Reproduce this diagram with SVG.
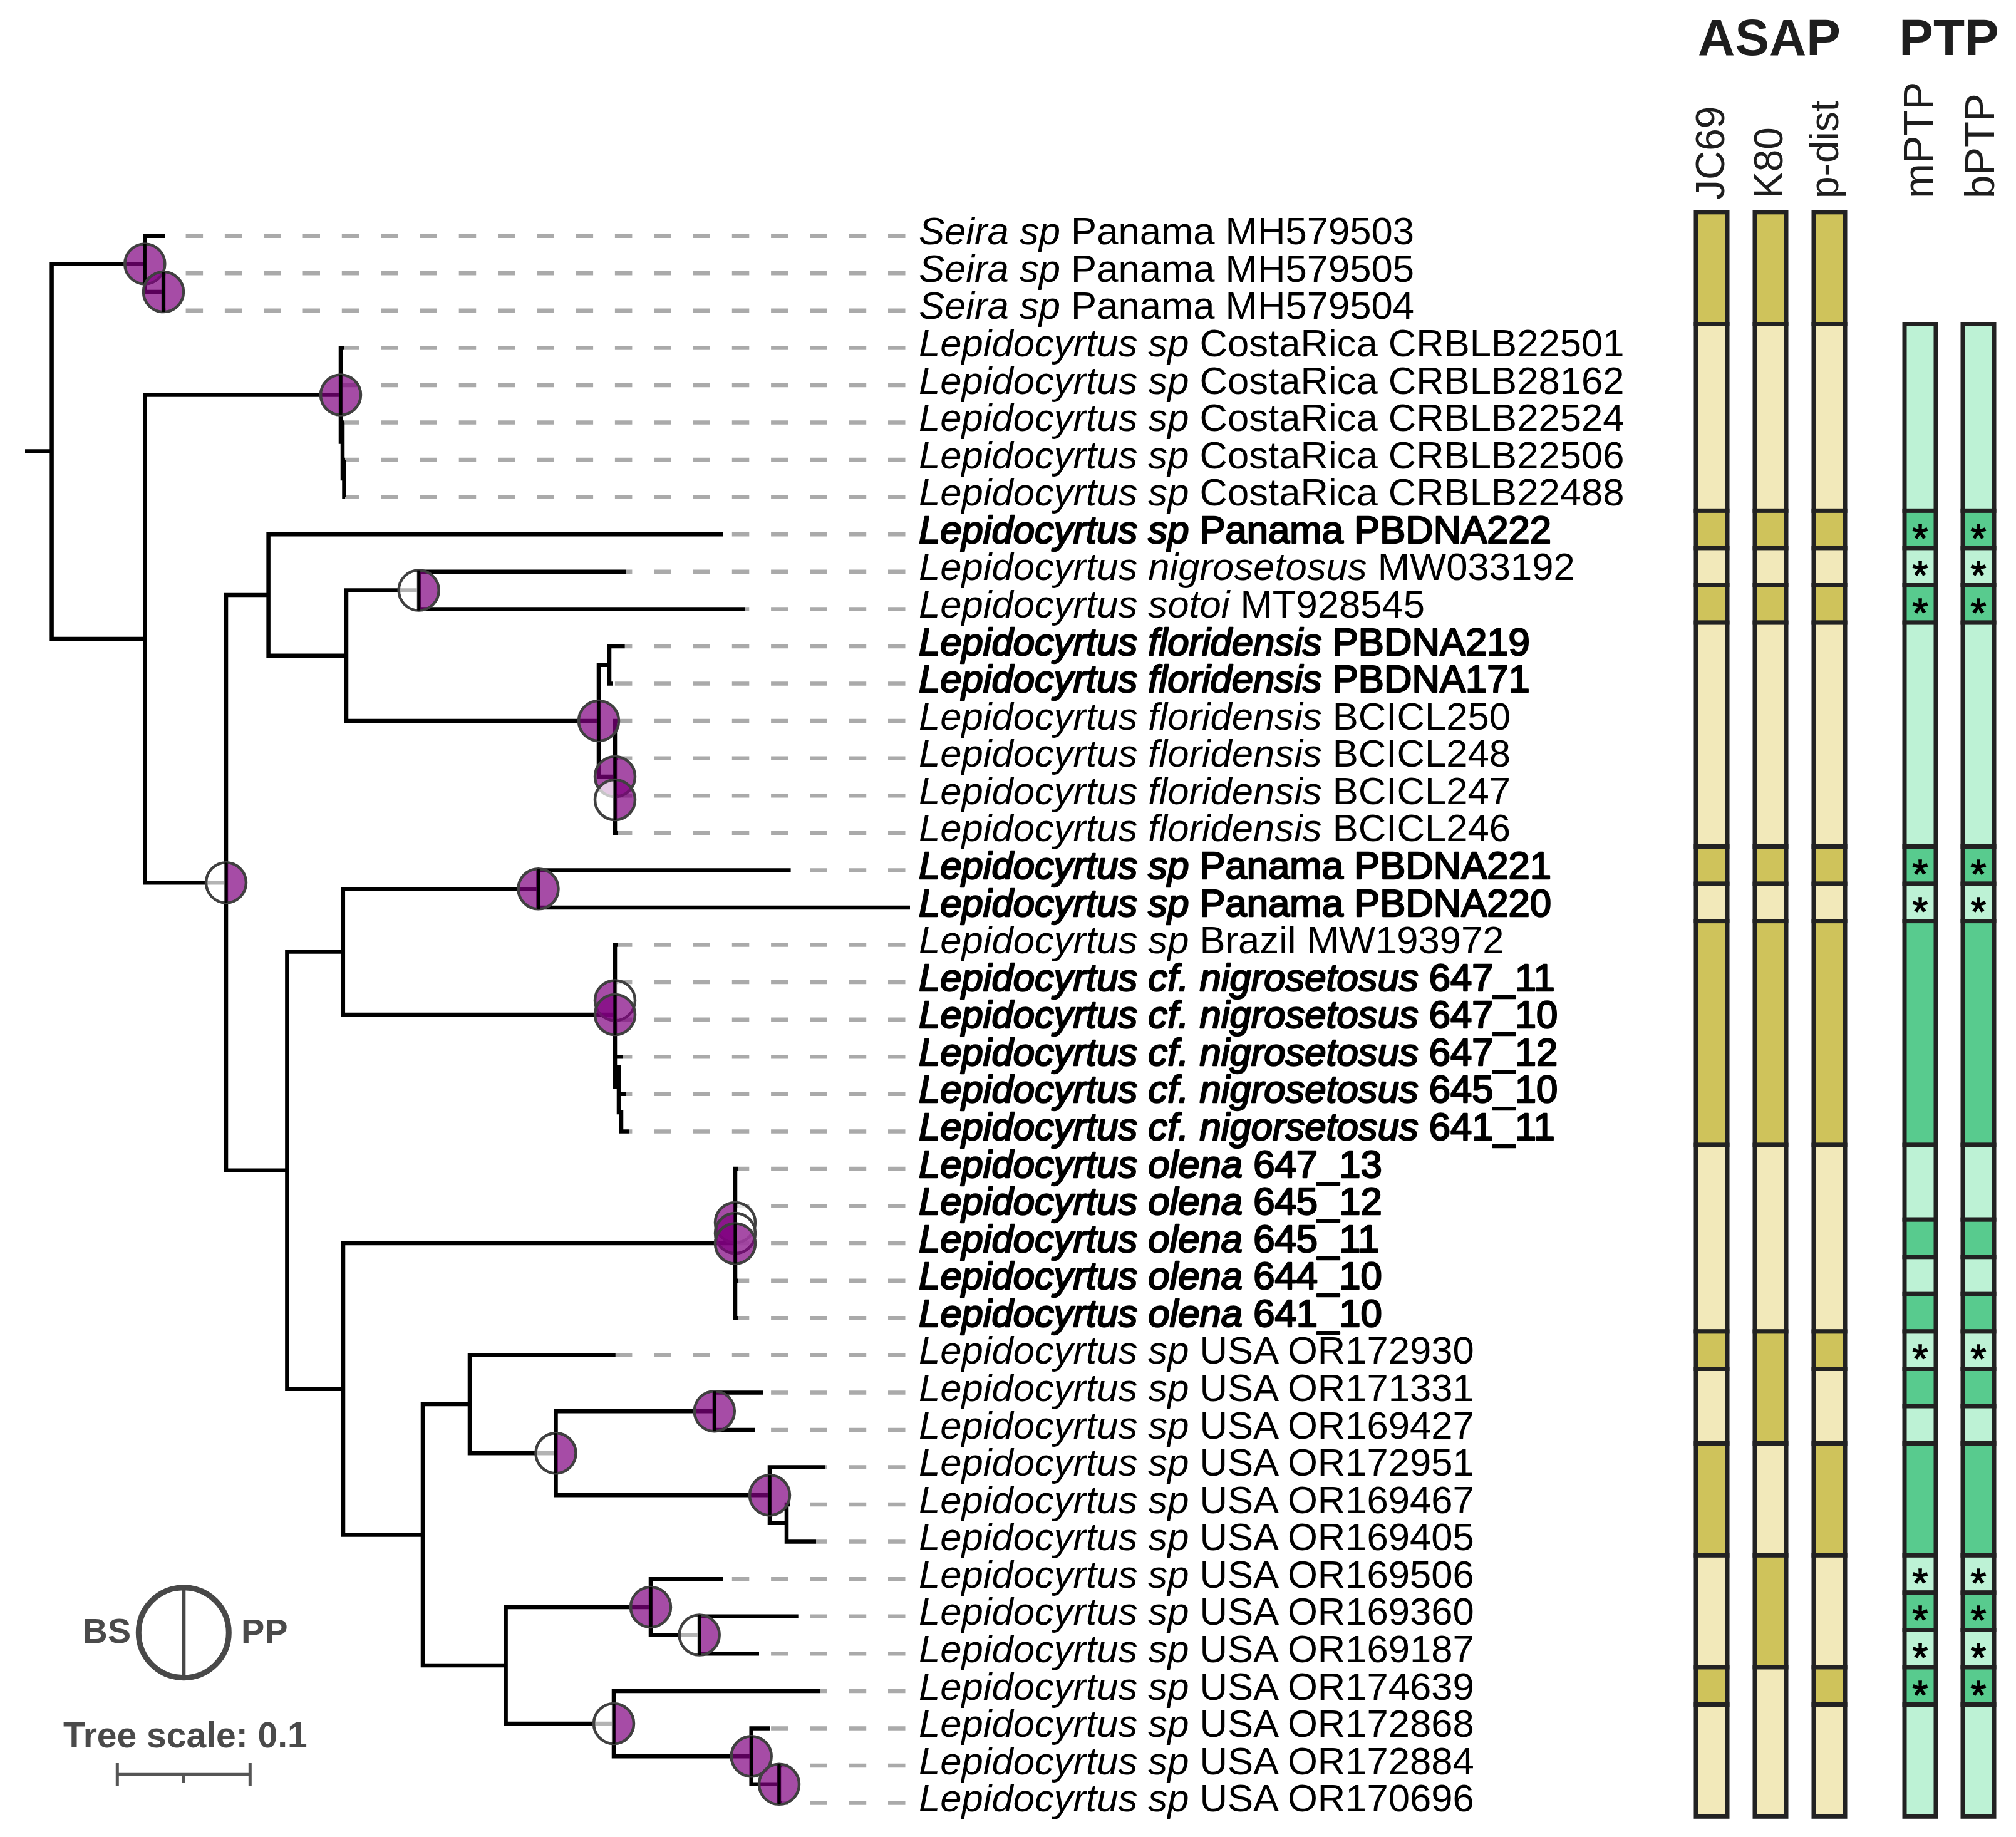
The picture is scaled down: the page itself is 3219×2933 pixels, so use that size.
<svg xmlns="http://www.w3.org/2000/svg" xmlns:xlink="http://www.w3.org/1999/xlink" width="3219" height="2933" viewBox="0 0 3219 2933">
<style>
.br{fill:none;stroke:#000;stroke-width:6.5;stroke-linejoin:miter;stroke-linecap:butt}
.ld{stroke:#aaaaaa;stroke-width:6.5;stroke-dasharray:27.5 34.8}
.lb{font-family:"Liberation Sans",Arial,sans-serif;font-size:61.6px;fill:#000}
.b{stroke:#000;stroke-width:2.4;stroke-linejoin:round}
.i{font-style:italic}
.f{fill:#800080;fill-opacity:0.7}
.e{fill:#ffffff;fill-opacity:0.7}
.hd{font-family:"Liberation Sans",Arial,sans-serif;font-size:82px;font-weight:bold;fill:#1e1e1e;text-anchor:middle}
.rl{font-family:"Liberation Sans",Arial,sans-serif;font-size:64px;fill:#1e1e1e}
.rp{font-size:67px}
.bar{stroke:#222;stroke-width:7}
.D{fill:#cfc35b}.L{fill:#f2e9ba}.GD{fill:#58cb8e}.GL{fill:#bdf2d5}
.ast{font-family:"Liberation Sans",Arial,sans-serif;font-size:64px;fill:#000;stroke:#000;stroke-width:1.5;text-anchor:middle}
.lg{font-family:"Liberation Sans",Arial,sans-serif;font-weight:bold;fill:#4a4a4a}
</style>
<defs>
<path id="hl" d="M0,-32A32,32 0 0 0 0,32Z"/>
<path id="hr" d="M0,-32A32,32 0 0 1 0,32Z"/>
<g id="ring"><circle r="32" fill="none" stroke="#404040" stroke-width="4.5"/><path d="M0,-32V32" stroke="#000" stroke-width="5"/></g>
</defs>
<rect width="3219" height="2933" fill="#fff"/>

<!-- dashed leaders -->
<g id="leaders">
<line class="ld" x1="1445.5" y1="376.7" x2="264" y2="376.7"/>
<line class="ld" x1="1445.5" y1="436.3" x2="264.5" y2="436.3"/>
<line class="ld" x1="1445.5" y1="495.8" x2="264.5" y2="495.8"/>
<line class="ld" x1="1445.5" y1="555.4" x2="549" y2="555.4"/>
<line class="ld" x1="1445.5" y1="615" x2="548" y2="615"/>
<line class="ld" x1="1445.5" y1="674.6" x2="550" y2="674.6"/>
<line class="ld" x1="1445.5" y1="734.1" x2="551" y2="734.1"/>
<line class="ld" x1="1445.5" y1="793.7" x2="551" y2="793.7"/>
<line class="ld" x1="1445.5" y1="853.3" x2="1155" y2="853.3"/>
<line class="ld" x1="1445.5" y1="912.8" x2="999.3" y2="912.8"/>
<line class="ld" x1="1445.5" y1="972.4" x2="1189" y2="972.4"/>
<line class="ld" x1="1445.5" y1="1032" x2="997.7" y2="1032"/>
<line class="ld" x1="1445.5" y1="1091.5" x2="978.7" y2="1091.5"/>
<line class="ld" x1="1445.5" y1="1151.1" x2="986" y2="1151.1"/>
<line class="ld" x1="1445.5" y1="1210.7" x2="986" y2="1210.7"/>
<line class="ld" x1="1445.5" y1="1270.3" x2="986" y2="1270.3"/>
<line class="ld" x1="1445.5" y1="1329.8" x2="986" y2="1329.8"/>
<line class="ld" x1="1445.5" y1="1389.4" x2="1262.6" y2="1389.4"/>
<line class="ld" x1="1445.5" y1="1508.5" x2="987" y2="1508.5"/>
<line class="ld" x1="1445.5" y1="1568.1" x2="986" y2="1568.1"/>
<line class="ld" x1="1445.5" y1="1627.7" x2="986" y2="1627.7"/>
<line class="ld" x1="1445.5" y1="1687.2" x2="994" y2="1687.2"/>
<line class="ld" x1="1445.5" y1="1746.8" x2="999" y2="1746.8"/>
<line class="ld" x1="1445.5" y1="1806.4" x2="1004.5" y2="1806.4"/>
<line class="ld" x1="1445.5" y1="1865.9" x2="1178" y2="1865.9"/>
<line class="ld" x1="1445.5" y1="1925.5" x2="1178" y2="1925.5"/>
<line class="ld" x1="1445.5" y1="1985.1" x2="1178" y2="1985.1"/>
<line class="ld" x1="1445.5" y1="2044.7" x2="1178" y2="2044.7"/>
<line class="ld" x1="1445.5" y1="2104.2" x2="1178" y2="2104.2"/>
<line class="ld" x1="1445.5" y1="2163.8" x2="982.8" y2="2163.8"/>
<line class="ld" x1="1445.5" y1="2223.4" x2="1218.5" y2="2223.4"/>
<line class="ld" x1="1445.5" y1="2282.9" x2="1205" y2="2282.9"/>
<line class="ld" x1="1445.5" y1="2342.5" x2="1317.6" y2="2342.5"/>
<line class="ld" x1="1445.5" y1="2402.1" x2="1261" y2="2402.1"/>
<line class="ld" x1="1445.5" y1="2461.6" x2="1303" y2="2461.6"/>
<line class="ld" x1="1445.5" y1="2521.2" x2="1154" y2="2521.2"/>
<line class="ld" x1="1445.5" y1="2580.8" x2="1274.7" y2="2580.8"/>
<line class="ld" x1="1445.5" y1="2640.3" x2="1212" y2="2640.3"/>
<line class="ld" x1="1445.5" y1="2699.9" x2="1309.5" y2="2699.9"/>
<line class="ld" x1="1445.5" y1="2759.5" x2="1229" y2="2759.5"/>
<line class="ld" x1="1445.5" y1="2819.1" x2="1248" y2="2819.1"/>
<line class="ld" x1="1445.5" y1="2878.6" x2="1248" y2="2878.6"/>
</g>

<!-- tree branches -->
<g id="branches" class="br">
<path d="M40,720.6H82.6"/>
<path d="M231.3,421.4H82.6V1019.9H231.3"/>
<path d="M264,376.7H231.3V466.05H261"/>
<path d="M264.5,436.3H261V495.8H264.5"/>
<path d="M544,630.5H231.3V1409.35H361"/>
<path d="M549,555.4H544V705.6H547"/>
<path d="M548,615H544"/>
<path d="M550,674.6H547V764H549.5"/>
<path d="M551,734.1H549.5V793.7H551"/>
<path d="M428.6,950H361V1868.7H458.4"/>
<path d="M1155,853.3H428.6V1046.75H553"/>
<path d="M668.7,942.6H553V1150.9H956"/>
<path d="M999.3,912.8H668.7V972.4H1189"/>
<path d="M973,1061.75H956V1240H982"/>
<path d="M997.7,1032H973V1091.5H978.7"/>
<path d="M986,1151.1H982V1329.8H986"/>
<path d="M982,1210.7H986M982,1270.3H986"/>
<path d="M547.8,1519.6H458.4V2217.8H548"/>
<path d="M859.5,1419.2H547.8V1620H982"/>
<path d="M1262.6,1389.4H859.5V1449H1453"/>
<path d="M987,1508.5H982V1735H988"/>
<path d="M982,1568.1H986M982,1627.7H986M982,1687.2H994"/>
<path d="M988,1700V1776H992V1806.4H1004.5M988,1746.8H999"/>
<path d="M1174,1985.05H548V2450.5H675"/>
<path d="M1178,1865.9H1174V2104.2H1178"/>
<path d="M1174,1925.5H1178M1174,2044.7H1178"/>
<path d="M750,2242H675V2659H807.6"/>
<path d="M982.8,2163.8H750V2320.2H887.5"/>
<path d="M1140.8,2253.15H887.5V2387.2H1229"/>
<path d="M1218.5,2223.4H1140.8V2282.9H1205"/>
<path d="M1317.6,2342.5H1229V2431.85H1256"/>
<path d="M1261,2402.1H1256V2461.6H1303"/>
<path d="M1039,2565.9H807.6V2752H980"/>
<path d="M1154,2521.2H1039V2610.55H1116.7"/>
<path d="M1274.7,2580.8H1116.7V2640.3H1212"/>
<path d="M1309.5,2699.9H980V2804.2H1199.7"/>
<path d="M1229,2759.5H1199.7V2848.85H1244"/>
<path d="M1248,2819.1H1244V2878.6H1248"/>
</g>

<!-- support circles (left = BS, right = PP) -->
<g id="support">
<g id="c-seira1" transform="translate(231.3,421.4)"><use xlink:href="#hl" class="f"/><use xlink:href="#hr" class="f"/><use xlink:href="#ring"/></g>
<g id="c-seira2" transform="translate(261,466.05)"><use xlink:href="#hl" class="f"/><use xlink:href="#hr" class="f"/><use xlink:href="#ring"/></g>
<g id="c-costarica" transform="translate(544,630.5)"><use xlink:href="#hl" class="f"/><use xlink:href="#hr" class="f"/><use xlink:href="#ring"/></g>
<g id="c-sotoi" transform="translate(668.7,942.6)"><use xlink:href="#hl" class="e"/><use xlink:href="#hr" class="f"/><use xlink:href="#ring"/></g>
<g id="c-florid" transform="translate(956,1150.9)"><use xlink:href="#hl" class="f"/><use xlink:href="#hr" class="f"/><use xlink:href="#ring"/></g>
<g id="c-florid2" transform="translate(982,1240)"><use xlink:href="#hl" class="f"/><use xlink:href="#hr" class="f"/><use xlink:href="#ring"/></g>
<g id="c-florid3" transform="translate(982,1277)"><use xlink:href="#hl" class="e"/><use xlink:href="#hr" class="f"/><use xlink:href="#ring"/></g>
<g id="c-ingroup" transform="translate(361,1409.35)"><use xlink:href="#hl" class="e"/><use xlink:href="#hr" class="f"/><use xlink:href="#ring"/></g>
<g id="c-panama" transform="translate(859.5,1419.2)"><use xlink:href="#hl" class="f"/><use xlink:href="#hr" class="f"/><use xlink:href="#ring"/></g>
<g id="c-nig2" transform="translate(982,1597.4)"><use xlink:href="#hl" class="f"/><use xlink:href="#hr" class="e"/><use xlink:href="#ring"/></g>
<g id="c-nig" transform="translate(982,1620)"><use xlink:href="#hl" class="f"/><use xlink:href="#hr" class="f"/><use xlink:href="#ring"/></g>
<g id="c-olena3" transform="translate(1174,1952)"><use xlink:href="#hl" class="f"/><use xlink:href="#hr" class="e"/><use xlink:href="#ring"/></g>
<g id="c-olena2" transform="translate(1174,1969)"><use xlink:href="#hl" class="f"/><use xlink:href="#hr" class="e"/><use xlink:href="#ring"/></g>
<g id="c-olena" transform="translate(1174,1985.5)"><use xlink:href="#hl" class="f"/><use xlink:href="#hr" class="f"/><use xlink:href="#ring"/></g>
<g id="c-usa-m" transform="translate(887.5,2320.2)"><use xlink:href="#hl" class="e"/><use xlink:href="#hr" class="f"/><use xlink:href="#ring"/></g>
<g id="c-usa-n" transform="translate(1140.8,2253.15)"><use xlink:href="#hl" class="f"/><use xlink:href="#hr" class="f"/><use xlink:href="#ring"/></g>
<g id="c-usa-o" transform="translate(1229,2387.2)"><use xlink:href="#hl" class="f"/><use xlink:href="#hr" class="f"/><use xlink:href="#ring"/></g>
<g id="c-usa-u" transform="translate(1039,2565.9)"><use xlink:href="#hl" class="f"/><use xlink:href="#hr" class="f"/><use xlink:href="#ring"/></g>
<g id="c-usa-v" transform="translate(1116.7,2610.55)"><use xlink:href="#hl" class="e"/><use xlink:href="#hr" class="f"/><use xlink:href="#ring"/></g>
<g id="c-usa-r" transform="translate(980,2752)"><use xlink:href="#hl" class="e"/><use xlink:href="#hr" class="f"/><use xlink:href="#ring"/></g>
<g id="c-usa-s" transform="translate(1199.7,2804.2)"><use xlink:href="#hl" class="f"/><use xlink:href="#hr" class="f"/><use xlink:href="#ring"/></g>
<g id="c-usa-t" transform="translate(1244,2848.85)"><use xlink:href="#hl" class="f"/><use xlink:href="#hr" class="f"/><use xlink:href="#ring"/></g>
</g>

<!-- leaf labels -->
<g id="labels" class="lb">
<g id="leaf-1"><text x="1467" y="390.3"><tspan class="i">Seira sp</tspan> Panama MH579503</text></g>
<g id="leaf-2"><text x="1467" y="449.9"><tspan class="i">Seira sp</tspan> Panama MH579505</text></g>
<g id="leaf-3"><text x="1467" y="509.4"><tspan class="i">Seira sp</tspan> Panama MH579504</text></g>
<g id="leaf-4"><text x="1467" y="569"><tspan class="i">Lepidocyrtus sp</tspan> CostaRica CRBLB22501</text></g>
<g id="leaf-5"><text x="1467" y="628.6"><tspan class="i">Lepidocyrtus sp</tspan> CostaRica CRBLB28162</text></g>
<g id="leaf-6"><text x="1467" y="688.2"><tspan class="i">Lepidocyrtus sp</tspan> CostaRica CRBLB22524</text></g>
<g id="leaf-7"><text x="1467" y="747.7"><tspan class="i">Lepidocyrtus sp</tspan> CostaRica CRBLB22506</text></g>
<g id="leaf-8"><text x="1467" y="807.3"><tspan class="i">Lepidocyrtus sp</tspan> CostaRica CRBLB22488</text></g>
<g id="leaf-9"><text class="b" x="1467" y="866.9"><tspan class="i">Lepidocyrtus sp</tspan> Panama PBDNA222</text></g>
<g id="leaf-10"><text x="1467" y="926.4"><tspan class="i">Lepidocyrtus nigrosetosus</tspan> MW033192</text></g>
<g id="leaf-11"><text x="1467" y="986"><tspan class="i">Lepidocyrtus sotoi</tspan> MT928545</text></g>
<g id="leaf-12"><text class="b" x="1467" y="1045.6"><tspan class="i">Lepidocyrtus floridensis</tspan> PBDNA219</text></g>
<g id="leaf-13"><text class="b" x="1467" y="1105.1"><tspan class="i">Lepidocyrtus floridensis</tspan> PBDNA171</text></g>
<g id="leaf-14"><text x="1467" y="1164.7"><tspan class="i">Lepidocyrtus floridensis</tspan> BCICL250</text></g>
<g id="leaf-15"><text x="1467" y="1224.3"><tspan class="i">Lepidocyrtus floridensis</tspan> BCICL248</text></g>
<g id="leaf-16"><text x="1467" y="1283.9"><tspan class="i">Lepidocyrtus floridensis</tspan> BCICL247</text></g>
<g id="leaf-17"><text x="1467" y="1343.4"><tspan class="i">Lepidocyrtus floridensis</tspan> BCICL246</text></g>
<g id="leaf-18"><text class="b" x="1467" y="1403"><tspan class="i">Lepidocyrtus sp</tspan> Panama PBDNA221</text></g>
<g id="leaf-19"><text class="b" x="1467" y="1462.6"><tspan class="i">Lepidocyrtus sp</tspan> Panama PBDNA220</text></g>
<g id="leaf-20"><text x="1467" y="1522.1"><tspan class="i">Lepidocyrtus sp</tspan> Brazil MW193972</text></g>
<g id="leaf-21"><text class="b" x="1467" y="1581.7"><tspan class="i">Lepidocyrtus cf. nigrosetosus</tspan> 647_11</text></g>
<g id="leaf-22"><text class="b" x="1467" y="1641.3"><tspan class="i">Lepidocyrtus cf. nigrosetosus</tspan> 647_10</text></g>
<g id="leaf-23"><text class="b" x="1467" y="1700.8"><tspan class="i">Lepidocyrtus cf. nigrosetosus</tspan> 647_12</text></g>
<g id="leaf-24"><text class="b" x="1467" y="1760.4"><tspan class="i">Lepidocyrtus cf. nigrosetosus</tspan> 645_10</text></g>
<g id="leaf-25"><text class="b" x="1467" y="1820"><tspan class="i">Lepidocyrtus cf. nigorsetosus</tspan> 641_11</text></g>
<g id="leaf-26"><text class="b" x="1467" y="1879.5"><tspan class="i">Lepidocyrtus olena</tspan> 647_13</text></g>
<g id="leaf-27"><text class="b" x="1467" y="1939.1"><tspan class="i">Lepidocyrtus olena</tspan> 645_12</text></g>
<g id="leaf-28"><text class="b" x="1467" y="1998.7"><tspan class="i">Lepidocyrtus olena</tspan> 645_11</text></g>
<g id="leaf-29"><text class="b" x="1467" y="2058.3"><tspan class="i">Lepidocyrtus olena</tspan> 644_10</text></g>
<g id="leaf-30"><text class="b" x="1467" y="2117.8"><tspan class="i">Lepidocyrtus olena</tspan> 641_10</text></g>
<g id="leaf-31"><text x="1467" y="2177.4"><tspan class="i">Lepidocyrtus sp</tspan> USA OR172930</text></g>
<g id="leaf-32"><text x="1467" y="2237"><tspan class="i">Lepidocyrtus sp</tspan> USA OR171331</text></g>
<g id="leaf-33"><text x="1467" y="2296.5"><tspan class="i">Lepidocyrtus sp</tspan> USA OR169427</text></g>
<g id="leaf-34"><text x="1467" y="2356.1"><tspan class="i">Lepidocyrtus sp</tspan> USA OR172951</text></g>
<g id="leaf-35"><text x="1467" y="2415.7"><tspan class="i">Lepidocyrtus sp</tspan> USA OR169467</text></g>
<g id="leaf-36"><text x="1467" y="2475.2"><tspan class="i">Lepidocyrtus sp</tspan> USA OR169405</text></g>
<g id="leaf-37"><text x="1467" y="2534.8"><tspan class="i">Lepidocyrtus sp</tspan> USA OR169506</text></g>
<g id="leaf-38"><text x="1467" y="2594.4"><tspan class="i">Lepidocyrtus sp</tspan> USA OR169360</text></g>
<g id="leaf-39"><text x="1467" y="2653.9"><tspan class="i">Lepidocyrtus sp</tspan> USA OR169187</text></g>
<g id="leaf-40"><text x="1467" y="2713.5"><tspan class="i">Lepidocyrtus sp</tspan> USA OR174639</text></g>
<g id="leaf-41"><text x="1467" y="2773.1"><tspan class="i">Lepidocyrtus sp</tspan> USA OR172868</text></g>
<g id="leaf-42"><text x="1467" y="2832.7"><tspan class="i">Lepidocyrtus sp</tspan> USA OR172884</text></g>
<g id="leaf-43"><text x="1467" y="2892.2"><tspan class="i">Lepidocyrtus sp</tspan> USA OR170696</text></g>
</g>

<!-- headers -->
<g id="headers">
<text class="hd" x="2825" y="88">ASAP</text>
<text class="hd" x="3112" y="88">PTP</text>
<text class="rl" transform="translate(2753,319) rotate(-90)">JC69</text>
<text class="rl" transform="translate(2846,317) rotate(-90)">K80</text>
<text class="rl" transform="translate(2935,317) rotate(-90)">p-dist</text>
<text class="rl rp" transform="translate(3086,317) rotate(-90)">mPTP</text>
<text class="rl rp" transform="translate(3184,317) rotate(-90)">bPTP</text>
</g>

<!-- ASAP JC69 -->
<g id="col-jc69" class="bar">
<rect class="D" x="2708" y="338.8" width="50" height="178.7"/>
<rect class="L" x="2708" y="517.5" width="50" height="297.9"/>
<rect class="D" x="2708" y="815.4" width="50" height="59.5"/>
<rect class="L" x="2708" y="874.9" width="50" height="59.6"/>
<rect class="D" x="2708" y="934.5" width="50" height="59.6"/>
<rect class="L" x="2708" y="994.1" width="50" height="357.4"/>
<rect class="D" x="2708" y="1351.5" width="50" height="59.6"/>
<rect class="L" x="2708" y="1411.1" width="50" height="59.5"/>
<rect class="D" x="2708" y="1470.6" width="50" height="357.5"/>
<rect class="L" x="2708" y="1828.1" width="50" height="297.8"/>
<rect class="D" x="2708" y="2125.9" width="50" height="59.6"/>
<rect class="L" x="2708" y="2185.5" width="50" height="119.1"/>
<rect class="D" x="2708" y="2304.6" width="50" height="178.7"/>
<rect class="L" x="2708" y="2483.3" width="50" height="178.7"/>
<rect class="D" x="2708" y="2662" width="50" height="59.6"/>
<rect class="L" x="2708" y="2721.6" width="50" height="178.7"/>
</g>
<!-- ASAP K80 -->
<g id="col-k80" class="bar">
<rect class="D" x="2802" y="338.8" width="50" height="178.7"/>
<rect class="L" x="2802" y="517.5" width="50" height="297.9"/>
<rect class="D" x="2802" y="815.4" width="50" height="59.5"/>
<rect class="L" x="2802" y="874.9" width="50" height="59.6"/>
<rect class="D" x="2802" y="934.5" width="50" height="59.6"/>
<rect class="L" x="2802" y="994.1" width="50" height="357.4"/>
<rect class="D" x="2802" y="1351.5" width="50" height="59.6"/>
<rect class="L" x="2802" y="1411.1" width="50" height="59.5"/>
<rect class="D" x="2802" y="1470.6" width="50" height="357.5"/>
<rect class="L" x="2802" y="1828.1" width="50" height="297.8"/>
<rect class="D" x="2802" y="2125.9" width="50" height="178.7"/>
<rect class="L" x="2802" y="2304.6" width="50" height="178.7"/>
<rect class="D" x="2802" y="2483.3" width="50" height="178.7"/>
<rect class="L" x="2802" y="2662" width="50" height="238.3"/>
</g>
<!-- ASAP p-dist -->
<g id="col-pdist" class="bar">
<rect class="D" x="2896" y="338.8" width="50" height="178.7"/>
<rect class="L" x="2896" y="517.5" width="50" height="297.9"/>
<rect class="D" x="2896" y="815.4" width="50" height="59.5"/>
<rect class="L" x="2896" y="874.9" width="50" height="59.6"/>
<rect class="D" x="2896" y="934.5" width="50" height="59.6"/>
<rect class="L" x="2896" y="994.1" width="50" height="357.4"/>
<rect class="D" x="2896" y="1351.5" width="50" height="59.6"/>
<rect class="L" x="2896" y="1411.1" width="50" height="59.5"/>
<rect class="D" x="2896" y="1470.6" width="50" height="357.5"/>
<rect class="L" x="2896" y="1828.1" width="50" height="297.8"/>
<rect class="D" x="2896" y="2125.9" width="50" height="59.6"/>
<rect class="L" x="2896" y="2185.5" width="50" height="119.1"/>
<rect class="D" x="2896" y="2304.6" width="50" height="178.7"/>
<rect class="L" x="2896" y="2483.3" width="50" height="178.7"/>
<rect class="D" x="2896" y="2662" width="50" height="59.6"/>
<rect class="L" x="2896" y="2721.6" width="50" height="178.7"/>
</g>
<!-- PTP mPTP -->
<g id="col-mptp" class="bar">
<rect class="GL" x="3041" y="517.5" width="50" height="297.9"/>
<rect class="GD" x="3041" y="815.4" width="50" height="59.5"/>
<rect class="GL" x="3041" y="874.9" width="50" height="59.6"/>
<rect class="GD" x="3041" y="934.5" width="50" height="59.6"/>
<rect class="GL" x="3041" y="994.1" width="50" height="357.4"/>
<rect class="GD" x="3041" y="1351.5" width="50" height="59.6"/>
<rect class="GL" x="3041" y="1411.1" width="50" height="59.5"/>
<rect class="GD" x="3041" y="1470.6" width="50" height="357.5"/>
<rect class="GL" x="3041" y="1828.1" width="50" height="119.1"/>
<rect class="GD" x="3041" y="1947.2" width="50" height="59.6"/>
<rect class="GL" x="3041" y="2006.8" width="50" height="59.5"/>
<rect class="GD" x="3041" y="2066.3" width="50" height="59.6"/>
<rect class="GL" x="3041" y="2125.9" width="50" height="59.6"/>
<rect class="GD" x="3041" y="2185.5" width="50" height="59.5"/>
<rect class="GL" x="3041" y="2245" width="50" height="59.6"/>
<rect class="GD" x="3041" y="2304.6" width="50" height="178.7"/>
<rect class="GL" x="3041" y="2483.3" width="50" height="59.6"/>
<rect class="GD" x="3041" y="2542.9" width="50" height="59.6"/>
<rect class="GL" x="3041" y="2602.5" width="50" height="59.5"/>
<rect class="GD" x="3041" y="2662" width="50" height="59.6"/>
<rect class="GL" x="3041" y="2721.6" width="50" height="178.7"/>
</g>
<!-- PTP bPTP -->
<g id="col-bptp" class="bar">
<rect class="GL" x="3134" y="517.5" width="50" height="297.9"/>
<rect class="GD" x="3134" y="815.4" width="50" height="59.5"/>
<rect class="GL" x="3134" y="874.9" width="50" height="59.6"/>
<rect class="GD" x="3134" y="934.5" width="50" height="59.6"/>
<rect class="GL" x="3134" y="994.1" width="50" height="357.4"/>
<rect class="GD" x="3134" y="1351.5" width="50" height="59.6"/>
<rect class="GL" x="3134" y="1411.1" width="50" height="59.5"/>
<rect class="GD" x="3134" y="1470.6" width="50" height="357.5"/>
<rect class="GL" x="3134" y="1828.1" width="50" height="119.1"/>
<rect class="GD" x="3134" y="1947.2" width="50" height="59.6"/>
<rect class="GL" x="3134" y="2006.8" width="50" height="59.5"/>
<rect class="GD" x="3134" y="2066.3" width="50" height="59.6"/>
<rect class="GL" x="3134" y="2125.9" width="50" height="59.6"/>
<rect class="GD" x="3134" y="2185.5" width="50" height="59.5"/>
<rect class="GL" x="3134" y="2245" width="50" height="59.6"/>
<rect class="GD" x="3134" y="2304.6" width="50" height="178.7"/>
<rect class="GL" x="3134" y="2483.3" width="50" height="59.6"/>
<rect class="GD" x="3134" y="2542.9" width="50" height="59.6"/>
<rect class="GL" x="3134" y="2602.5" width="50" height="59.5"/>
<rect class="GD" x="3134" y="2662" width="50" height="59.6"/>
<rect class="GL" x="3134" y="2721.6" width="50" height="178.7"/>
</g>
<!-- asterisks -->
<g id="asterisks" class="ast">
<text x="3066" y="881.8">*</text><text x="3159" y="881.8">*</text>
<text x="3066" y="941.4">*</text><text x="3159" y="941.4">*</text>
<text x="3066" y="1001">*</text><text x="3159" y="1001">*</text>
<text x="3066" y="1418">*</text><text x="3159" y="1418">*</text>
<text x="3066" y="1477.5">*</text><text x="3159" y="1477.5">*</text>
<text x="3066" y="2192.4">*</text><text x="3159" y="2192.4">*</text>
<text x="3066" y="2549.8">*</text><text x="3159" y="2549.8">*</text>
<text x="3066" y="2609.4">*</text><text x="3159" y="2609.4">*</text>
<text x="3066" y="2668.9">*</text><text x="3159" y="2668.9">*</text>
<text x="3066" y="2728.5">*</text><text x="3159" y="2728.5">*</text>
</g>

<!-- legend -->
<g id="legend">
<circle cx="293.3" cy="2606.7" r="72" fill="none" stroke="#484848" stroke-width="9"/>
<path d="M293.3,2534.7V2678.7" stroke="#484848" stroke-width="6"/>
<text class="lg" x="209" y="2623.3" font-size="56" text-anchor="end">BS</text>
<text class="lg" x="385" y="2624" font-size="56">PP</text>
</g>
<g id="scale">
<text class="lg" x="101" y="2790" font-size="57">Tree scale: 0.1</text>
<path d="M187.3,2815V2851.7M187.3,2833.3H399.3M399.3,2815V2851.7M293.3,2833.3V2846.7" fill="none" stroke="#555" stroke-width="5"/>
</g>
</svg>
